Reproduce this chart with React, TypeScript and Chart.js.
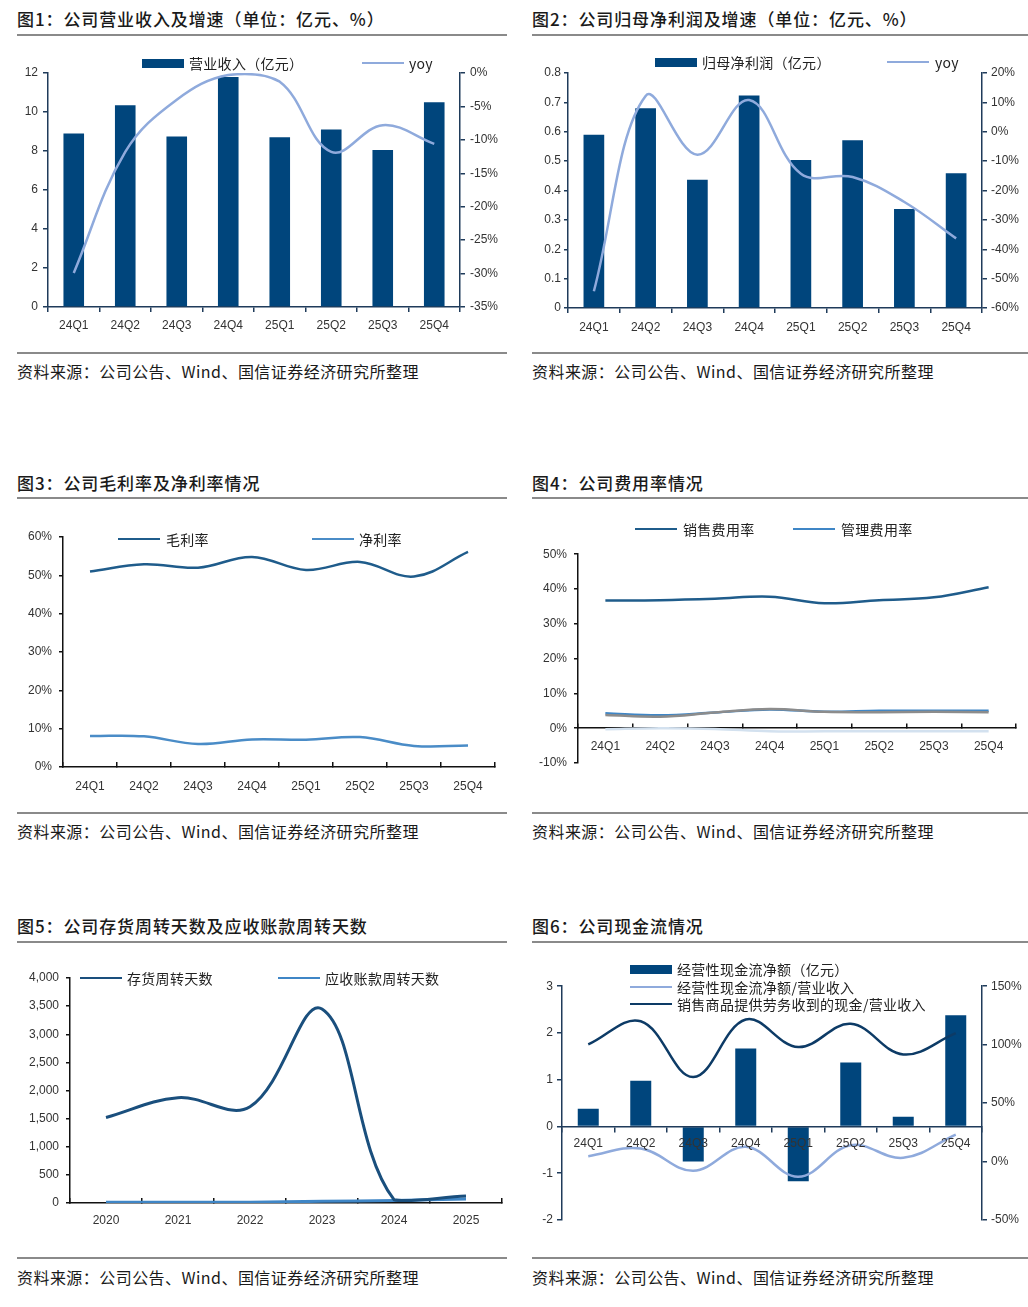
import React, { useEffect, useRef } from "react";
import { Chart, registerables } from "chart.js";
Chart.register(...registerables);

// ---------- data ----------
const quarters = ["24Q1", "24Q2", "24Q3", "24Q4", "25Q1", "25Q2", "25Q3", "25Q4"];
const revenue = [8.9, 10.35, 8.75, 11.8, 8.7, 9.1, 8.05, 10.5];
const revenueYoy = [-29.9, -11.8, -4.0, -0.3, -1.3, -11.8, -7.8, -10.6];
const netProfit = [0.59, 0.68, 0.437, 0.723, 0.504, 0.571, 0.337, 0.459];
const netProfitYoy = [-54.3, 12.2, -7.8, 10.8, -14.3, -15.4, -23.9, -36.3];
const grossMargin = [51.0, 52.9, 52.0, 54.8, 51.4, 53.5, 49.7, 56.1];
const netMargin = [8.1, 8.0, 6.0, 7.2, 7.1, 7.8, 5.5, 5.6];
const sellingRate = [36.7, 36.8, 37.2, 37.8, 35.9, 36.8, 37.6, 40.5];
const adminRate = [4.3, 3.7, 4.5, 5.4, 4.7, 5.0, 5.0, 5.0];
const rdRate = [3.8, 3.3, 4.5, 5.5, 4.7, 4.6, 4.7, 4.6];
const finRate = [-0.3, 0.0, -0.2, -0.9, -0.9, -0.9, -0.9, -0.9];
const years = ["2020", "2021", "2022", "2023", "2024", "2025"];
const inventoryDays = [1521, 1872, 1712, 3450, 59, 125];
const receivableDays = [15, 15, 15, 30, 45, 70];
const opCashFlow = [0.38, 0.98, -0.75, 1.67, -1.17, 1.37, 0.21, 2.38];
const opCashToRevenue = [4.6, 11.2, -7.9, 12.6, -13.0, 14.0, 3.2, 23.1];
const salesCashToRevenue = [100.2, 120.0, 72.3, 121.5, 97.9, 117.8, 91.6, 109.8];

const titles = [
  "图1：公司营业收入及增速（单位：亿元、%）",
  "图2：公司归母净利润及增速（单位：亿元、%）",
  "图3：公司毛利率及净利率情况",
  "图4：公司费用率情况",
  "图5：公司存货周转天数及应收账款周转天数",
  "图6：公司现金流情况",
];
const sourceText = "资料来源：公司公告、Wind、国信证券经济研究所整理";

// ---------- styles ----------
const FONT_TICK = "'Liberation Sans', Arial, 'Noto Sans CJK SC', sans-serif";
const FONT_CJK = "'Noto Sans CJK SC', 'Liberation Sans', sans-serif";
const TICK_COLOR = "#333333";
const NAVY = "#00457c";
const LIGHT = "#8faadc";
const AX_NAVY = "#1f3b5a";
const AX_BLACK = "#111111";

type Geo = { cx: number; cy: number; cw: number; ch: number; pl: number; pt: number; pr: number; pb: number };

const tickFont = { family: FONT_TICK, size: 12 };

function xScale(g: Geo, o: { tl: number; pad: number; color: string; bw: number; center?: boolean; z?: number }) {
  return {
    type: "category",
    offset: true,
    position: o.center ? { y: 0 } : "bottom",
    grid: { offset: true, drawOnChartArea: false, drawTicks: true, tickLength: o.tl, color: o.color, lineWidth: o.bw },
    border: { display: true, color: o.color, width: o.bw, z: o.z ?? 0 },
    ticks: { font: tickFont, color: TICK_COLOR, padding: o.pad, maxRotation: 0, autoSkip: false, z: o.z ?? 0 },
    afterFit: (s: any) => {
      s.height = o.center ? 0 : g.cy + g.ch - g.pb;
    },
  };
}

function yScale(
  g: Geo,
  side: "left" | "right",
  o: { min: number; max: number; step: number; fmt: (v: number) => string; color: string; bw: number; pad: number; tl?: number }
) {
  return {
    type: "linear",
    position: side,
    min: o.min,
    max: o.max,
    grid: { drawOnChartArea: false, drawTicks: true, tickLength: o.tl ?? 5, color: o.color, lineWidth: o.bw },
    border: { display: true, color: o.color, width: o.bw },
    ticks: { stepSize: o.step, font: tickFont, color: TICK_COLOR, padding: o.pad, callback: (v: any) => o.fmt(Number(v)) },
    afterFit: (s: any) => {
      s.width = side === "left" ? g.pl - g.cx : g.cx + g.cw - g.pr;
    },
  };
}

function pad(g: Geo, hasRight: boolean, centerX: boolean) {
  return {
    top: g.pt - g.cy,
    left: 0,
    right: hasRight ? 0 : g.cx + g.cw - g.pr,
    bottom: centerX ? g.cy + g.ch - g.pb : 0,
  };
}

const common = (padding: any) => ({
  animation: false,
  responsive: false,
  maintainAspectRatio: false,
  layout: { padding },
  plugins: { legend: { display: false }, tooltip: { enabled: false }, title: { display: false } },
});

const pct = (v: number) => `${Math.round(v)}%`;

// ---------- geometry ----------
const g1: Geo = { cx: 0, cy: 50, cw: 514, ch: 300, pl: 48, pt: 73, pr: 460, pb: 307 };
const g2: Geo = { cx: 514, cy: 50, cw: 514, ch: 300, pl: 568, pt: 73, pr: 982, pb: 308 };
const g3: Geo = { cx: 0, cy: 510, cw: 514, ch: 295, pl: 63, pt: 537, pr: 495, pb: 767 };
const g4: Geo = { cx: 514, cy: 540, cw: 514, ch: 240, pl: 578, pt: 553, pr: 1016, pb: 763 };
const g5: Geo = { cx: 0, cy: 960, cw: 514, ch: 280, pl: 70, pt: 978, pr: 502, pb: 1203 };
const g6: Geo = { cx: 514, cy: 975, cw: 514, ch: 260, pl: 562, pt: 986, pr: 982, pb: 1220 };

const line = (label: string, data: number[], color: string, width: number, yAxisID = "y", order = 0) => ({
  type: "line",
  label,
  data,
  yAxisID,
  borderColor: color,
  backgroundColor: color,
  borderWidth: width,
  pointRadius: 0,
  tension: 0.38,
  fill: false,
  order,
});

const bar = (label: string, data: number[], yAxisID = "y") => ({
  type: "bar",
  label,
  data,
  yAxisID,
  backgroundColor: NAVY,
  barPercentage: 0.4,
  categoryPercentage: 1,
  order: 5,
});

const build1 = () => ({
  type: "bar",
  data: {
    labels: quarters,
    datasets: [line("yoy", revenueYoy, LIGHT, 2.5, "y1", 0), bar("营业收入（亿元）", revenue)],
  },
  options: {
    ...common(pad(g1, true, false)),
    scales: {
      x: xScale(g1, { tl: 5, pad: 6, color: AX_NAVY, bw: 1.5 }),
      y: yScale(g1, "left", { min: 0, max: 12, step: 2, fmt: (v) => String(v), color: AX_NAVY, bw: 1.5, pad: 5 }),
      y1: yScale(g1, "right", { min: -35, max: 0, step: 5, fmt: pct, color: AX_NAVY, bw: 1.5, pad: 5 }),
    },
  },
});

const build2 = () => ({
  type: "bar",
  data: {
    labels: quarters,
    datasets: [line("yoy", netProfitYoy, LIGHT, 2.5, "y1", 0), bar("归母净利润（亿元）", netProfit)],
  },
  options: {
    ...common(pad(g2, true, false)),
    scales: {
      x: xScale(g2, { tl: 5, pad: 7, color: AX_NAVY, bw: 1.5 }),
      y: yScale(g2, "left", {
        min: 0,
        max: 0.8,
        step: 0.1,
        fmt: (v) => (Math.abs(v) < 1e-9 ? "0" : v.toFixed(1)),
        color: AX_NAVY,
        bw: 1.5,
        pad: 3,
        tl: 4,
      }),
      y1: yScale(g2, "right", { min: -60, max: 20, step: 10, fmt: pct, color: AX_NAVY, bw: 1.5, pad: 4 }),
    },
  },
});

const build3 = () => ({
  type: "line",
  data: {
    labels: quarters,
    datasets: [line("毛利率", grossMargin, "#1f5c8b", 2.5), line("净利率", netMargin, "#4a8cc7", 2.5)],
  },
  options: {
    ...common(pad(g3, false, false)),
    scales: {
      x: xScale(g3, { tl: -5, pad: 17, color: AX_BLACK, bw: 1.5 }),
      y: yScale(g3, "left", { min: 0, max: 60, step: 10, fmt: pct, color: AX_BLACK, bw: 1.5, pad: 7, tl: 4 }),
    },
  },
});

const build4 = () => ({
  type: "line",
  data: {
    labels: quarters,
    datasets: [
      line("财务费用率", finRate, "#d3e1ef", 2.5, "y", 3),
      line("研发费用率", rdRate, "#8c8c8c", 2.5, "y", 1),
      line("管理费用率", adminRate, "#3f86c6", 2.5, "y", 2),
      line("销售费用率", sellingRate, "#1f5c8b", 2.5, "y", 0),
    ],
  },
  options: {
    ...common(pad(g4, false, true)),
    scales: {
      x: xScale(g4, { tl: -5, pad: 16, color: AX_BLACK, bw: 1.5, center: true }),
      y: yScale(g4, "left", { min: -10, max: 50, step: 10, fmt: pct, color: AX_BLACK, bw: 1.5, pad: 7, tl: 4 }),
    },
  },
});

const build5 = () => ({
  type: "line",
  data: {
    labels: years,
    datasets: [
      line("存货周转天数", inventoryDays, "#1a4f7d", 3, "y", 0),
      line("应收账款周转天数", receivableDays, "#3f86c6", 3, "y", 1),
    ],
  },
  options: {
    ...common(pad(g5, false, false)),
    scales: {
      x: xScale(g5, { tl: -5, pad: 15, color: AX_BLACK, bw: 1.5 }),
      y: yScale(g5, "left", {
        min: 0,
        max: 4000,
        step: 500,
        fmt: (v) => v.toLocaleString("en-US"),
        color: AX_BLACK,
        bw: 1.5,
        pad: 7,
        tl: 4,
      }),
    },
  },
});

const build6 = () => ({
  type: "bar",
  data: {
    labels: quarters,
    datasets: [
      line("销售商品提供劳务收到的现金/营业收入", salesCashToRevenue, "#0d3b66", 2.5, "y1", 0),
      line("经营性现金流净额/营业收入", opCashToRevenue, LIGHT, 2.5, "y1", 1),
      bar("经营性现金流净额（亿元）", opCashFlow),
    ],
  },
  options: {
    ...common(pad(g6, true, true)),
    scales: {
      x: xScale(g6, { tl: 5, pad: 5, color: AX_NAVY, bw: 1.5, center: true, z: 1 }),
      y: yScale(g6, "left", { min: -2, max: 3, step: 1, fmt: (v) => String(v), color: AX_NAVY, bw: 1.5, pad: 4 }),
      y1: yScale(g6, "right", { min: -50, max: 150, step: 50, fmt: pct, color: AX_NAVY, bw: 1.5, pad: 4 }),
    },
  },
});

// ---------- components ----------
function ChartBox({ geo, build }: { geo: Geo; build: () => any }) {
  const ref = useRef<HTMLCanvasElement>(null);
  useEffect(() => {
    const c = new Chart(ref.current as HTMLCanvasElement, build());
    return () => c.destroy();
  }, []);
  return (
    <canvas
      ref={ref}
      width={geo.cw}
      height={geo.ch}
      style={{ position: "absolute", left: geo.cx, top: geo.cy, width: geo.cw, height: geo.ch }}
    />
  );
}

function Legend({
  x,
  y,
  tx,
  kind,
  color,
  text,
}: {
  x: number;
  y: number;
  tx: number;
  kind: "bar" | "line";
  color: string;
  text: string;
}) {
  const h = kind === "bar" ? 9 : 2.5;
  return (
    <>
      <div style={{ position: "absolute", left: x, top: y - h / 2, width: 42, height: h, background: color }} />
      <div
        style={{
          position: "absolute",
          left: tx,
          top: y - 10,
          height: 20,
          lineHeight: "20px",
          fontSize: 14,
          fontFamily: FONT_CJK,
          color: "#222",
          whiteSpace: "nowrap",
          letterSpacing: 0.3,
        }}
      >
        {text}
      </div>
    </>
  );
}

function Frame({ x, w, titleY, topLine, bottomLine, sourceY, title }: any) {
  return (
    <>
      <div
        style={{
          position: "absolute",
          left: x,
          top: titleY - 12,
          height: 24,
          lineHeight: "24px",
          fontSize: 17,
          fontWeight: 500,
          letterSpacing: 0.9,
          fontFamily: FONT_CJK,
          color: "#1a1a1a",
          whiteSpace: "nowrap",
        }}
      >
        {title}
      </div>
      <div style={{ position: "absolute", left: x, top: topLine - 1, width: w, height: 2, background: "#8a8a8a" }} />
      <div style={{ position: "absolute", left: x, top: bottomLine - 1, width: w, height: 2, background: "#8a8a8a" }} />
      <div
        style={{
          position: "absolute",
          left: x,
          top: sourceY - 12,
          height: 24,
          lineHeight: "24px",
          fontSize: 16,
          letterSpacing: 0.45,
          fontFamily: FONT_CJK,
          color: "#1a1a1a",
          whiteSpace: "nowrap",
        }}
      >
        {sourceText}
      </div>
    </>
  );
}

export default function App() {
  return (
    <div style={{ position: "absolute", left: 0, top: 0, width: 1028, height: 1307, background: "#fff", overflow: "hidden" }}>
      <Frame x={17} w={490} titleY={19} topLine={35} bottomLine={353} sourceY={371} title={titles[0]} />
      <Frame x={532} w={496} titleY={19} topLine={35} bottomLine={353} sourceY={371} title={titles[1]} />
      <Frame x={17} w={490} titleY={483} topLine={498} bottomLine={813} sourceY={831} title={titles[2]} />
      <Frame x={532} w={496} titleY={483} topLine={498} bottomLine={813} sourceY={831} title={titles[3]} />
      <Frame x={17} w={490} titleY={926} topLine={942} bottomLine={1258} sourceY={1277} title={titles[4]} />
      <Frame x={532} w={496} titleY={926} topLine={942} bottomLine={1258} sourceY={1277} title={titles[5]} />

      <ChartBox geo={g1} build={build1} />
      <ChartBox geo={g2} build={build2} />
      <ChartBox geo={g3} build={build3} />
      <ChartBox geo={g4} build={build4} />
      <ChartBox geo={g5} build={build5} />
      <ChartBox geo={g6} build={build6} />

      <Legend x={142} y={63} tx={189} kind="bar" color={NAVY} text="营业收入（亿元）" />
      <Legend x={362} y={63} tx={409} kind="line" color={LIGHT} text="yoy" />

      <Legend x={655} y={62} tx={702} kind="bar" color={NAVY} text="归母净利润（亿元）" />
      <Legend x={887} y={62} tx={935} kind="line" color={LIGHT} text="yoy" />

      <Legend x={118} y={539} tx={166} kind="line" color="#1f5c8b" text="毛利率" />
      <Legend x={312} y={539} tx={359} kind="line" color="#4a8cc7" text="净利率" />

      <Legend x={635} y={529} tx={683} kind="line" color="#1f5c8b" text="销售费用率" />
      <Legend x={793} y={529} tx={841} kind="line" color="#3f86c6" text="管理费用率" />

      <Legend x={80} y={978} tx={127} kind="line" color="#1a4f7d" text="存货周转天数" />
      <Legend x={278} y={978} tx={325} kind="line" color="#3f86c6" text="应收账款周转天数" />

      <Legend x={630} y={969} tx={677} kind="bar" color={NAVY} text="经营性现金流净额（亿元）" />
      <Legend x={630} y={987} tx={677} kind="line" color={LIGHT} text="经营性现金流净额/营业收入" />
      <Legend x={630} y={1004} tx={677} kind="line" color="#0d3b66" text="销售商品提供劳务收到的现金/营业收入" />
    </div>
  );
}
